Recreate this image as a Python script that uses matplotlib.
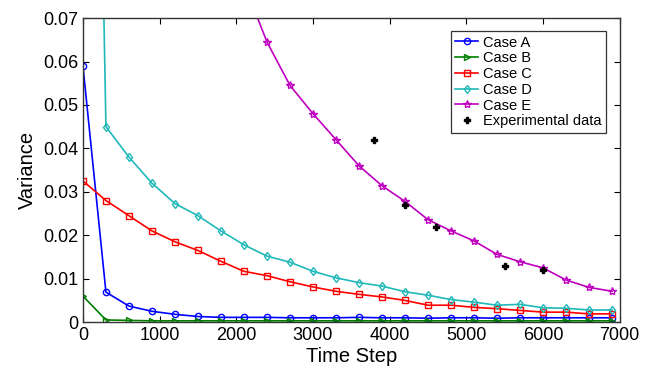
import numpy as np
import matplotlib.pyplot as plt

plt.rcParams['font.family'] = ['Liberation Sans', 'DejaVu Sans']

steps = [0, 300, 600, 900, 1200, 1500, 1800, 2100, 2400, 2700, 3000, 3300,
         3600, 3900, 4200, 4500, 4800, 5100, 5400, 5700, 6000, 6300, 6600, 6900]

case_a = [0.059, 0.0069, 0.0037, 0.0025, 0.0018, 0.0013, 0.0011, 0.0011,
          0.0011, 0.001, 0.001, 0.001, 0.0011, 0.001, 0.001, 0.0009, 0.001,
          0.001, 0.0009, 0.001, 0.001, 0.001, 0.001, 0.001]
case_b = [0.006, 0.0005, 0.0004, 0.0003, 0.0003, 0.0003, 0.0003, 0.0003,
          0.0003, 0.0003, 0.0003, 0.0003, 0.0003, 0.0003, 0.0003, 0.0003,
          0.0003, 0.0003, 0.0003, 0.0003, 0.0003, 0.0003, 0.0003, 0.0003]
case_c = [0.0325, 0.028, 0.0245, 0.021, 0.0185, 0.0165, 0.014, 0.0117,
          0.0107, 0.0093, 0.0081, 0.0071, 0.0064, 0.0058, 0.005, 0.0039,
          0.0039, 0.0034, 0.0031, 0.0027, 0.0023, 0.0023, 0.0019, 0.0019]
case_d = [0.33, 0.045, 0.038, 0.032, 0.0273, 0.0245, 0.021, 0.0178,
          0.0152, 0.0138, 0.0117, 0.0102, 0.0091, 0.0083, 0.007, 0.0062,
          0.0052, 0.0046, 0.0039, 0.0041, 0.0033, 0.0032, 0.0028, 0.0028]
case_e = [0.25, 0.19, 0.15, 0.125, 0.108, 0.095, 0.086, 0.078,
          0.0645, 0.0545, 0.048, 0.042, 0.036, 0.0314, 0.0278, 0.0236,
          0.021, 0.0187, 0.0156, 0.0139, 0.0125, 0.0097, 0.008, 0.0071]

exp_steps = [3800, 4200, 4600, 5500, 6000]
exp_vals = [0.042, 0.027, 0.022, 0.013, 0.012]

fig = plt.figure(figsize=(6.53, 3.69), dpi=100)
ax = fig.add_axes([0.127, 0.127, 0.822, 0.824])

ms = 4.5
ax.plot(steps, case_a, '-o', color='#0000ff', mfc='none', ms=ms, lw=1.2, label='Case A')
ax.plot(steps, case_b, '->', color='#008000', mfc='none', ms=ms, lw=1.2, label='Case B')
ax.plot(steps, case_c, '-s', color='#ff0000', mfc='none', ms=ms, lw=1.2, label='Case C')
ax.plot(steps, case_d, '-d', color='#20b8b8', mfc='none', ms=ms, lw=1.2, label='Case D')
ax.plot(steps, case_e, '-*', color='#bf00bf', mfc='none', ms=6, lw=1.2, label='Case E')
ax.plot(exp_steps, exp_vals, 'P', color='black', ms=4.5, ls='none', label='Experimental data')

ax.set_xlim(0, 7000)
ax.set_ylim(0, 0.07)
ax.set_xticks(np.arange(0, 7001, 1000))
ax.set_yticks(np.arange(0, 0.071, 0.01))
ax.set_yticklabels(['0', '0.01', '0.02', '0.03', '0.04', '0.05', '0.06', '0.07'])
ax.tick_params(direction='in', top=True, right=True, labelsize=13, length=4, width=0.8)
ax.set_xlabel('Time Step', fontsize=14.5, labelpad=2)
ax.set_ylabel('Variance', fontsize=14.5)
for s in ax.spines.values():
    s.set_linewidth(1.0)
    s.set_color('#333333')

leg = ax.legend(loc='upper right', fontsize=10.5, frameon=True, fancybox=False,
                edgecolor='black', handlelength=1.6, handletextpad=0.3,
                labelspacing=0.12, borderpad=0.3, borderaxespad=0,
                bbox_to_anchor=(0.974, 0.957))
leg.get_frame().set_linewidth(0.9)

fig.savefig('out.png', dpi=100)
